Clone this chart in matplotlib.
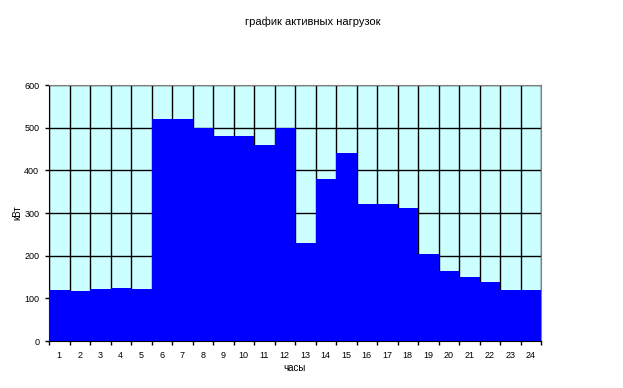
import matplotlib
matplotlib.use('Agg')
import matplotlib.pyplot as plt
import numpy as np

hours = list(range(1, 25))
load_kw = [120, 117, 122, 124, 122, 520, 520, 500, 480, 480, 460, 500,
           230, 380, 440, 320, 320, 312, 204, 164, 150, 138, 120, 120]
y_ticks = [0, 100, 200, 300, 400, 500, 600]

plt.rcParams['font.family'] = ['Liberation Sans', 'DejaVu Sans']

fig = plt.figure(figsize=(6.23, 3.88), dpi=100)
ax = fig.add_axes([0.0787, 0.1211, 0.7897, 0.6598])
ax.set_facecolor('#ccffff')

ax.bar(hours, load_kw, width=1.0, color='#0000ff', zorder=3, linewidth=0)

ax.set_xlim(0.5, 24.5)
ax.set_ylim(0, 600)
ax.set_yticks(y_ticks)
ax.set_yticklabels([str(v) for v in y_ticks], fontsize=6.5)
ax.set_xticks(hours)
ax.set_xticklabels([str(h) for h in hours], fontsize=6.5)
ax.set_xticks(np.arange(0.5, 25, 1), minor=True)

ax.tick_params(axis='x', which='major', length=0, pad=7)
ax.tick_params(axis='x', which='minor', length=3, width=1, direction='out')
ax.tick_params(axis='y', length=3, width=1, direction='out', pad=4)

ax.grid(axis='y', which='major', color='black', linewidth=1, zorder=1)
ax.grid(axis='x', which='minor', color='black', linewidth=1, zorder=1)
ax.set_axisbelow(True)

for s in ['top', 'right']:
    ax.spines[s].set_color('#808080')
ax.spines['left'].set_color('black')
ax.spines['bottom'].set_color('black')

ax.set_ylabel('кВт', fontsize=7, va='center')
ax.yaxis.set_label_coords(-0.064, 0.5)
ax.set_xlabel('часы', fontsize=7, labelpad=2)
fig.text(0.502, 0.945, 'график активных нагрузок', fontsize=8, ha='center', va='center')

fig.savefig('out.png', dpi=100)
